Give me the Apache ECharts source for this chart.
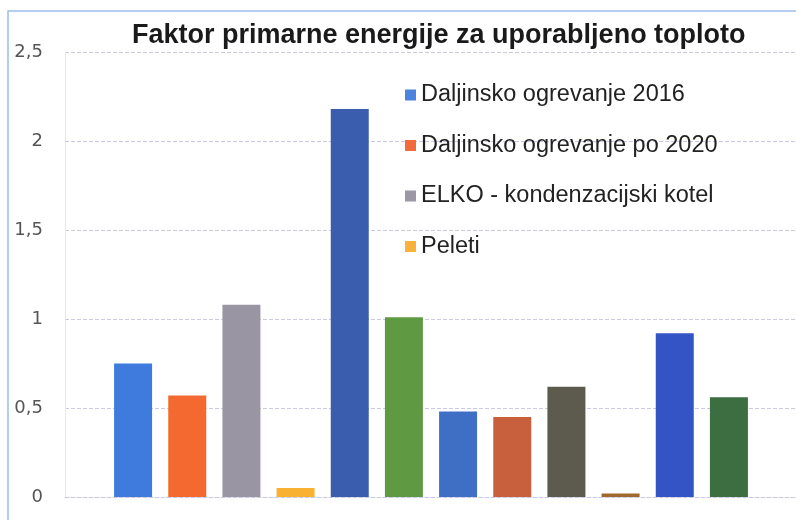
<!DOCTYPE html>
<html>
<head>
<meta charset="utf-8">
<script src="https://cdn.jsdelivr.net/npm/echarts@6/dist/echarts.min.js"></script>
<style>
  html, body { margin: 0; padding: 0; background: #fff; }
  #chart { width: 796px; height: 520px; }
</style>
</head>
<body>
<div id="chart"></div>
<script>
const legendNames = [
  "Daljinsko ogrevanje 2016",
  "Daljinsko ogrevanje po 2020",
  "ELKO - kondenzacijski kotel",
  "Peleti",
];
const legendColors = ["#4a84df", "#f26b3a", "#9b97a5", "#f8b13a"];

// 12 stolpcev, brez oznak na osi x
const categories = ["1", "2", "3", "4", "5", "6", "7", "8", "9", "10", "11", "12"];
const values = [0.75, 0.57, 1.08, 0.05, 2.18, 1.01, 0.48, 0.45, 0.62, 0.02, 0.92, 0.56];
const barColors = [
  "#3f7bdc", "#f3692f", "#9a95a3", "#f8b133",
  "#3a5dad", "#5f9a42", "#3f6fc4", "#c8603d",
  "#5d5b4d", "#a0682c", "#3453c4", "#3d6e42",
];
const yTicks = [0, 0.5, 1, 1.5, 2, 2.5];

const chart = echarts.init(document.getElementById("chart"));

// vsaka serija dobi vsak 4. stolpec, da legenda pokaže 4 vnose
const series = legendNames.map((name, k) => ({
  name,
  type: "bar",
  stack: "all",
  xAxisIndex: 1,
  yAxisIndex: 1,
  barWidth: 38,
  itemStyle: { color: legendColors[k] },
  data: values.map((v, i) =>
    i % 4 === k ? { value: v, itemStyle: { color: barColors[i] } } : null
  ),
}));

chart.setOption({
  backgroundColor: "#fff",
  animation: false,
  title: {
    text: "Faktor primarne energije za uporabljeno toploto",
    left: 127,
    top: 17,
    textStyle: {
      fontFamily: "Liberation Sans",
      fontSize: 27,
      fontWeight: "bold",
      color: "#1a1a1a",
    },
  },
  legend: {
    orient: "vertical",
    left: 400,
    top: 78,
    itemGap: 26.5,
    itemWidth: 11,
    itemHeight: 11,
    icon: "rect",
    data: legendNames,
    textStyle: {
      fontFamily: "Liberation Sans",
      fontSize: 23.5,
      color: "#222",
    },
  },
  graphic: [
    {
      type: "rect",
      silent: true,
      shape: { x: 8, y: 11, width: 900, height: 600 },
      style: { fill: null, stroke: "#9dbdec", lineWidth: 1.5 },
    },
  ],
  grid: [
    { left: 65, right: -10, top: 52, bottom: 23 },
    { left: 106, right: 40, top: 52, bottom: 23 },
  ],
  xAxis: [
    {
      gridIndex: 0,
      type: "category",
      data: [""],
      axisLine: { lineStyle: { color: "#c9c9e2", type: "dashed" } },
      axisTick: { show: false },
      axisLabel: { show: false },
    },
    {
      gridIndex: 1,
      type: "category",
      data: categories,
      axisLine: { show: false },
      axisTick: { show: false },
      axisLabel: { show: false },
    },
  ],
  yAxis: [
    {
      gridIndex: 0,
      type: "value",
      min: yTicks[0],
      max: yTicks[yTicks.length - 1],
      interval: 0.5,
      axisLine: { show: true, lineStyle: { color: "#e4e4ee", type: "dotted" } },
      axisTick: { show: false },
      splitLine: { lineStyle: { color: "#c9c9e2", type: "dashed" } },
      axisLabel: {
        margin: 22,
        fontFamily: "DejaVu Sans",
        fontSize: 18,
        color: "#555",
        formatter: (v) => String(v).replace(".", ","),
      },
    },
    {
      gridIndex: 1,
      type: "value",
      min: yTicks[0],
      max: yTicks[yTicks.length - 1],
      interval: 0.5,
      show: false,
      splitLine: { show: false },
    },
  ],
  series,
});
</script>
</body>
</html>
